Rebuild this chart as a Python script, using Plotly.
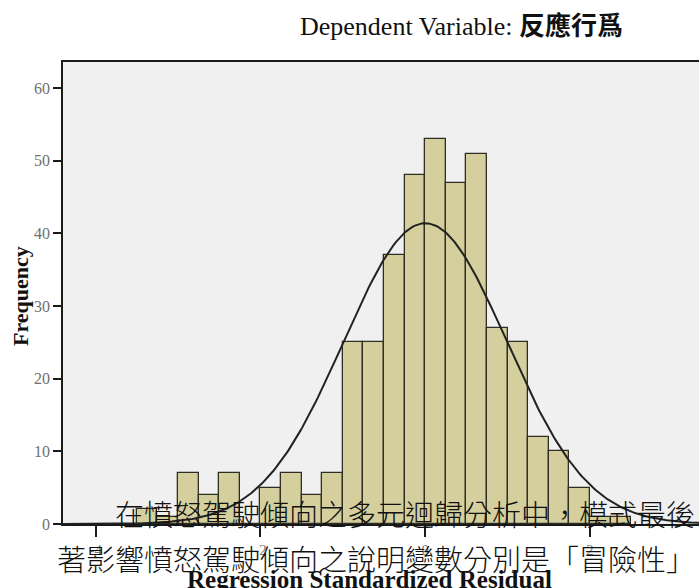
import numpy as np
import plotly.graph_objects as go

# Histogram of regression standardized residuals (bin width 0.25)
bin_start = -3.5
bin_width = 0.25
counts = [2, 1, 7, 4, 7, 0, 5, 7, 4, 7, 25, 25, 37, 48, 53, 47, 51, 27, 25, 12, 10, 5, 1, 1]

# Normal curve parameters for the residuals
resid_mean = 0.0
resid_sd = 0.99

x_ticks = [-4, -2, 0, 2]
y_ticks = [0, 10, 20, 30, 40, 50, 60]

title_text = "Dependent Variable: <b>反應行爲</b>"
x_title = "Regression Standardized Residual"
y_title = "Frequency"
overlay_line1 = "在憤怒駕駛傾向之多元迴歸分析中，模式最後"
overlay_line2 = "著影響憤怒駕駛傾向之說明變數分別是「冒險性」"

centers = [bin_start + bin_width * (i + 0.5) for i in range(len(counts))]
n_total = sum(counts)

x_range = [-4.396, 3.322]
y_range = [0, 63.6]

xs = np.linspace(x_range[0], x_range[1] + 0.5, 400)
pdf = n_total * bin_width / (resid_sd * np.sqrt(2 * np.pi)) * np.exp(-0.5 * ((xs - resid_mean) / resid_sd) ** 2)

fig = go.Figure()
fig.add_trace(go.Bar(
    x=centers, y=counts, width=bin_width,
    marker=dict(color="#d4cf9d", line=dict(color="#2e2e22", width=1.3)),
    hoverinfo="x+y",
))
fig.add_trace(go.Scatter(
    x=xs, y=pdf, mode="lines",
    line=dict(color="#222222", width=2), hoverinfo="skip",
))

W, H = 699, 588
L, R, T, B = 63, 0, 62, 64
pw, ph = W - L - R, H - T - B

def px(xp):
    return (xp - L) / pw

def py(yp):
    return (H - B - yp) / ph

serif = "Liberation Serif, Noto Sans CJK TC, serif"
cjk = "Noto Sans CJK TC, sans-serif"

fig.update_layout(
    width=W, height=H,
    margin=dict(l=L, r=R, t=T, b=B, pad=0),
    paper_bgcolor="white",
    plot_bgcolor="#f0f0f0",
    showlegend=False,
    bargap=0,
    xaxis=dict(
        range=x_range, tickvals=x_ticks, ticktext=[str(v) for v in x_ticks],
        showgrid=False, zeroline=False,
        showline=True, linecolor="#1a1a1a", linewidth=1.6, mirror=True,
        ticks="outside", ticklen=11, tickwidth=1.5, tickcolor="#1a1a1a",
        tickfont=dict(family=serif, size=15, color="#777777"),
    ),
    yaxis=dict(
        range=y_range, tickvals=y_ticks,
        showgrid=False, zeroline=False,
        showline=True, linecolor="#1a1a1a", linewidth=1.6,
        ticks="outside", ticklen=8, tickwidth=1.5, tickcolor="#1a1a1a",
        tickfont=dict(family=serif, size=16, color="#707070"),
    ),
    annotations=[
        dict(text=title_text, xref="paper", yref="paper", x=px(461), y=py(26),
             xanchor="center", yanchor="middle", showarrow=False,
             font=dict(family=serif, size=26, color="#111111")),
        dict(text="<b>" + y_title + "</b>", xref="paper", yref="paper", x=px(20), y=py(296),
             xanchor="center", yanchor="middle", showarrow=False, textangle=-90,
             font=dict(family=serif, size=22, color="#111111")),
        dict(text="<b>" + x_title + "</b>", xref="paper", yref="paper", x=px(369), y=py(579),
             xanchor="center", yanchor="middle", showarrow=False,
             font=dict(family=serif, size=25, color="#111111")),
        dict(text=overlay_line1, xref="paper", yref="paper", x=px(113), y=py(513),
             xanchor="left", yanchor="middle", showarrow=False,
             font=dict(family=cjk, size=29, color="#111111", weight=300)),
        dict(text=overlay_line2, xref="paper", yref="paper", x=px(55), y=py(558),
             xanchor="left", yanchor="middle", showarrow=False,
             font=dict(family=cjk, size=29, color="#111111", weight=300)),
    ],
)

fig.write_html("out.html")
